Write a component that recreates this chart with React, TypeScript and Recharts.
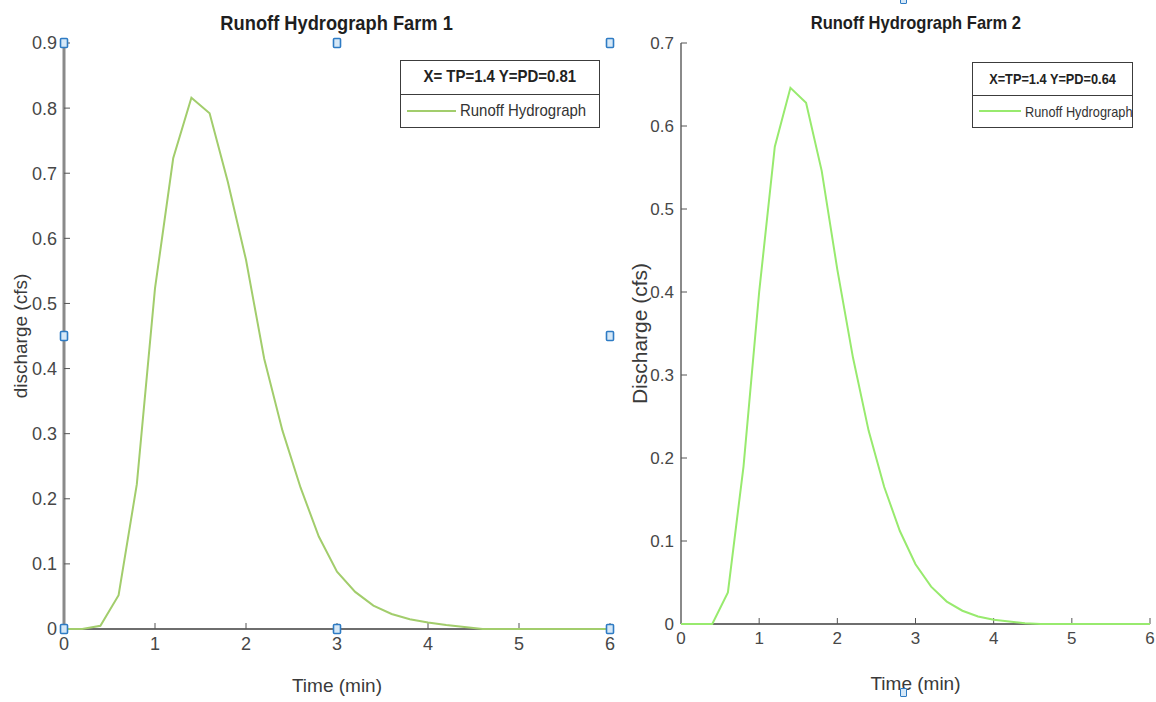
import React from "react";
import { ComposedChart, Label, Legend, Line, Scatter, XAxis, YAxis } from "recharts";

// time steps of the hydrograph (min)
const timeMin = [
  0, 0.2, 0.4, 0.6, 0.8, 1.0, 1.2, 1.4, 1.6, 1.8, 2.0, 2.2, 2.4, 2.6, 2.8, 3.0,
  3.2, 3.4, 3.6, 3.8, 4.0, 4.2, 4.4, 4.6, 4.8, 5.0, 5.2, 5.4, 5.6, 5.8, 6.0,
];

// discharge (cfs)
const farm1Discharge = [
  0, 0, 0.005, 0.052, 0.222, 0.523, 0.723, 0.816, 0.792, 0.687, 0.567, 0.415,
  0.305, 0.217, 0.142, 0.088, 0.057, 0.036, 0.023, 0.015, 0.01, 0.006, 0.003,
  0, 0, 0, 0, 0, 0, 0, 0,
];
const farm2Discharge = [
  0, 0, 0, 0.038, 0.19, 0.4, 0.575, 0.646, 0.628, 0.546, 0.427, 0.321, 0.233,
  0.165, 0.112, 0.072, 0.045, 0.027, 0.016, 0.009, 0.005, 0.003, 0.001,
  0, 0, 0, 0, 0, 0, 0, 0,
];

const xTicks = [0, 1, 2, 3, 4, 5, 6];
const farm1YTicks = [0, 0.1, 0.2, 0.3, 0.4, 0.5, 0.6, 0.7, 0.8, 0.9];
const farm2YTicks = [0, 0.1, 0.2, 0.3, 0.4, 0.5, 0.6, 0.7];

// selection handles left on the first axes
const handleTime = [0, 3, 6, 0, 6, 0, 3, 6];
const handleFarm1 = [0.9, 0.9, 0.9, 0.45, 0.45, 0, 0, 0];

const FONT = '"Liberation Sans", Arial, sans-serif';

const toRows = (qs: number[]) => timeMin.map((t, i) => ({ t, q: qs[i] }));

const HandleSquare = (props: any) => {
  const { cx, cy } = props;
  if (cx == null || cy == null) return null;
  return (
    <rect
      x={cx - 3.5}
      y={cy - 4.5}
      width={7}
      height={9}
      fill="#d6e8f7"
      stroke="#2e7bc4"
      strokeWidth={1.6}
      rx={1}
    />
  );
};

// MATLAB text is narrower than Liberation Sans, so squeeze it a little
const Squeezed = ({ k, origin, children }: { k: number; origin: string; children: React.ReactNode }) => (
  <span
    style={{
      display: "inline-block",
      whiteSpace: "nowrap",
      transform: `scaleX(${k})`,
      transformOrigin: origin,
    }}
  >
    {children}
  </span>
);

interface LegendBoxProps {
  heading: string;
  label: string;
  color: string;
  headingSize: number;
  labelSize: number;
  squeeze: number;
  sampleWidth: number;
  height: number;
}

const LegendBox = ({ heading, label, color, headingSize, labelSize, squeeze, sampleWidth, height }: LegendBoxProps) => (
  <div
    style={{
      boxSizing: "border-box",
      height,
      border: "1.5px solid #3c3c3c",
      background: "#fff",
      fontFamily: FONT,
      color: "#222",
      display: "flex",
      flexDirection: "column",
    }}
  >
    <div
      style={{
        flex: 1,
        display: "flex",
        alignItems: "center",
        justifyContent: "center",
        fontWeight: "bold",
        fontSize: headingSize,
        borderBottom: "1.5px solid #3c3c3c",
        whiteSpace: "nowrap",
      }}
    >
      <Squeezed k={squeeze} origin="center">{heading}</Squeezed>
    </div>
    <div
      style={{
        flex: 1,
        display: "flex",
        alignItems: "center",
        paddingLeft: 6,
        fontSize: labelSize,
        whiteSpace: "nowrap",
        color: "#333",
      }}
    >
      <span style={{ display: "inline-block", width: sampleWidth, height: 2, background: color, marginRight: 4, flexShrink: 0 }} />
      <Squeezed k={squeeze} origin="left">{label}</Squeezed>
    </div>
  </div>
);

interface PanelProps {
  left: number;
  width: number;
  yAxisWidth: number;
  marginTop: number;
  marginRight: number;
  xAxisHeight: number;
  discharge: number[];
  yMax: number;
  yTicks: number[];
  color: string;
  yAxisStrokeWidth: number;
  title: string;
  titleSize: number;
  titleTop: number;
  yLabel: string;
  yLabelSize: number;
  xLabelOffset: number;
  tickFont: number;
  legendHeading: string;
  legendPos: { left: number; top: number; width: number; height: number };
  legendHeadingSize: number;
  legendLabelSize: number;
  legendSqueeze: number;
  legendSample: number;
  handles?: { t: number; q: number }[];
}

const Panel = (p: PanelProps) => {
  const tickStyle = { fill: "#474747", fontSize: p.tickFont, fontFamily: FONT };
  return (
    <div style={{ position: "absolute", left: p.left, top: 0, width: p.width, height: 702 }}>
      <div
        style={{
          position: "absolute",
          left: p.yAxisWidth,
          width: p.width - p.yAxisWidth - p.marginRight,
          top: p.titleTop,
          textAlign: "center",
          fontFamily: FONT,
          fontWeight: "bold",
          fontSize: p.titleSize,
          lineHeight: 1,
          color: "#1e1e1e",
        }}
      >
        <Squeezed k={0.87} origin="center">{p.title}</Squeezed>
      </div>
      <ComposedChart
        width={p.width}
        height={702}
        margin={{ top: p.marginTop, right: p.marginRight, bottom: 0, left: 0 }}
      >
        <XAxis
          type="number"
          dataKey="t"
          domain={[0, 6]}
          ticks={xTicks}
          height={p.xAxisHeight}
          tick={tickStyle}
          tickSize={-6}
          tickMargin={14}
          axisLine={{ stroke: "#6e6e6e", strokeWidth: 2 }}
          tickLine={{ stroke: "#555" }}
        >
          <Label
            value="Time (min)"
            position="insideBottom"
            offset={p.xLabelOffset}
            style={{ fontFamily: FONT, fontSize: 19, fill: "#3a3a3a" }}
          />
        </XAxis>
        <YAxis
          type="number"
          domain={[0, p.yMax]}
          ticks={p.yTicks}
          width={p.yAxisWidth}
          tick={tickStyle}
          tickSize={-6}
          tickMargin={13}
          axisLine={{ stroke: "#8a8a8a", strokeWidth: p.yAxisStrokeWidth }}
          tickLine={{ stroke: "#555" }}
        >
          <Label
            value={p.yLabel}
            angle={-90}
            position="insideLeft"
            offset={20}
            style={{ fontFamily: FONT, fontSize: p.yLabelSize, fill: "#3a3a3a", textAnchor: "middle" }}
          />
        </YAxis>
        <Legend
          layout="horizontal"
          verticalAlign="middle"
          align="center"
          wrapperStyle={{ left: p.legendPos.left, top: p.legendPos.top, width: p.legendPos.width }}
          content={() => (
            <LegendBox
              heading={p.legendHeading}
              label="Runoff Hydrograph"
              color={p.color}
              headingSize={p.legendHeadingSize}
              labelSize={p.legendLabelSize}
              squeeze={p.legendSqueeze}
              sampleWidth={p.legendSample}
              height={p.legendPos.height}
            />
          )}
        />
        <Line
          data={toRows(p.discharge)}
          dataKey="q"
          name="Runoff Hydrograph"
          type="linear"
          stroke={p.color}
          strokeWidth={2}
          dot={false}
          isAnimationActive={false}
          zIndex={550}
        />
        {p.handles && (
          <Scatter
            data={p.handles}
            dataKey="q"
            shape={HandleSquare}
            isAnimationActive={false}
            legendType="none"
            zIndex={600}
          />
        )}
      </ComposedChart>
    </div>
  );
};

const handleDiv = (left: number, top: number): React.CSSProperties => ({
  position: "absolute",
  left: left - 3.5,
  top: top - 4.5,
  width: 7,
  height: 9,
  boxSizing: "border-box",
  border: "1.6px solid #2e7bc4",
  background: "#d6e8f7",
  borderRadius: 1,
});

export default function App() {
  const farm1Handles = handleTime.map((t, i) => ({ t, q: handleFarm1[i] }));
  return (
    <div
      style={{
        position: "fixed",
        left: 0,
        top: 0,
        width: 1156,
        height: 702,
        background: "#fff",
        overflow: "hidden",
      }}
    >
      <Panel
        left={0}
        width={620}
        yAxisWidth={64}
        marginTop={43}
        marginRight={10}
        xAxisHeight={73}
        discharge={farm1Discharge}
        yMax={0.9}
        yTicks={farm1YTicks}
        color="#a2cd6c"
        yAxisStrokeWidth={3}
        title="Runoff Hydrograph Farm 1"
        titleSize={21}
        titleTop={12}
        yLabel="discharge (cfs)"
        yLabelSize={19}
        xLabelOffset={10}
        tickFont={18}
        legendHeading="X= TP=1.4 Y=PD=0.81"
        legendPos={{ left: 400, top: 60, width: 200, height: 68 }}
        legendHeadingSize={17}
        legendLabelSize={17}
        legendSqueeze={0.88}
        legendSample={49}
        handles={farm1Handles}
      />
      <Panel
        left={620}
        width={536}
        yAxisWidth={61}
        marginTop={43}
        marginRight={6}
        xAxisHeight={78}
        discharge={farm2Discharge}
        yMax={0.7}
        yTicks={farm2YTicks}
        color="#98ea6e"
        yAxisStrokeWidth={2}
        title="Runoff Hydrograph Farm 2"
        titleSize={19}
        titleTop={13}
        yLabel="Discharge (cfs)"
        yLabelSize={21}
        xLabelOffset={12}
        tickFont={17}
        legendHeading="X=TP=1.4 Y=PD=0.64"
        legendPos={{ left: 352, top: 62, width: 161, height: 66 }}
        legendHeadingSize={15}
        legendLabelSize={15}
        legendSqueeze={0.85}
        legendSample={42}
      />
      <div style={handleDiv(903, -1)} />
      <div style={handleDiv(903, 692)} />
    </div>
  );
}
